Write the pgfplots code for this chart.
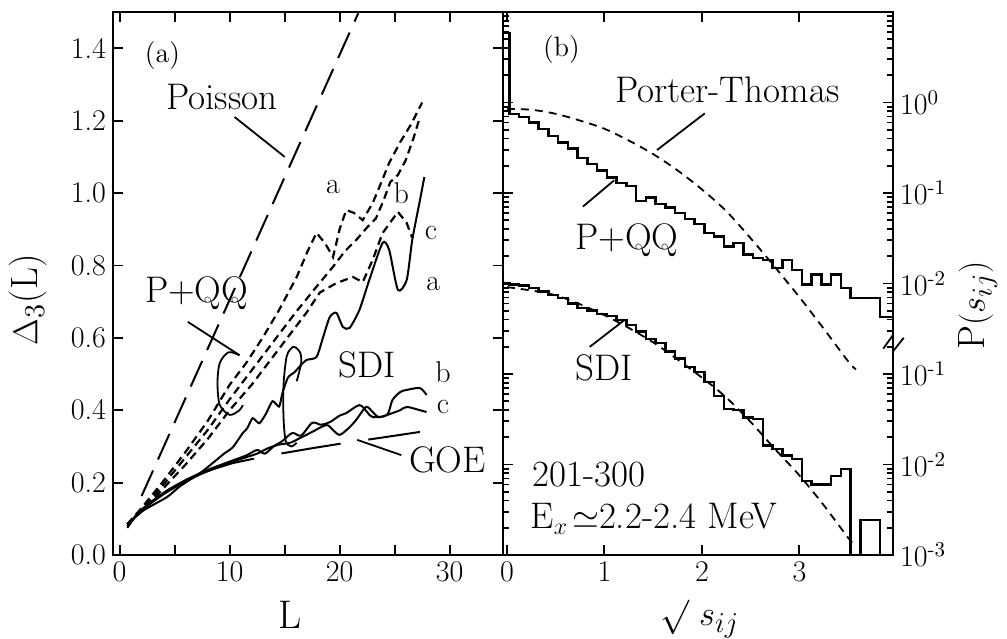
\documentclass[border=0pt]{standalone}
\usepackage{fontspec}
\usepackage{pgfplots}
\pgfplotsset{compat=1.18}
\newcommand{\lab}{\fontsize{18.5}{20}\selectfont}
\newcommand{\sml}{\fontsize{15}{16}\selectfont}
\begin{document}
\begin{tikzpicture}
\pgfplotsset{
  common/.style={
    scale only axis, width=195pt, height=271.5pt, clip=false,
    axis line style={line width=1.2pt},
    every tick/.style={black, line width=0.9pt},
    tick align=inside, xtick pos=both, ytick pos=both,
    major tick length=5pt, minor tick length=2.8pt,
    tick label style={font=\sml},
    /pgf/number format/assume math mode=true,
  },
}
% ---------------- panel (a) ----------------
\begin{axis}[common, name=left, at={(0pt,0pt)}, anchor=south west,
  xmin=-0.6, xmax=34.85, ymin=0, ymax=1.5,
  xtick={0,10,20,30}, minor xtick={5,15,25},
  minor tick length=5pt,
  ytick={0,0.2,0.4,0.6,0.8,1.0,1.2,1.4},
  yticklabel style={/pgf/number format/.cd, fixed, fixed zerofill, precision=1, assume math mode=true},
  xlabel={L}, xlabel style={font=\fontsize{20}{22}\selectfont, at={(axis description cs:0.454,-0.11)}, anchor=center},
  ylabel={$\Delta_3$(L)}, ylabel style={font=\fontsize{19}{21}\selectfont, at={(axis description cs:-0.218,0.47)}, anchor=center},
]
% Poisson
\addplot[black, line width=1pt, dash pattern=on 14pt off 6pt] coordinates {(2.0,0.163) (21.7,1.497)};
% GOE
\addplot[black, line width=1pt, dash pattern=on 30pt off 14pt] coordinates {
(0.7,0.075)(1.5,0.11)(2.3,0.133)(3.5,0.16)(4.5,0.18)(5.7,0.20)(7,0.22)(8.5,0.237)(10.3,0.254)(12.5,0.268)(15,0.282)(17.5,0.295)(20.6,0.31)(24,0.325)(27.3,0.34)};
% SDI a
\addplot[black, line width=1pt, smooth, tension=0.4] coordinates {
(0.7,0.085)(2,0.12)(4.3,0.16)(5.5,0.19)(7.3,0.226)(8.5,0.255)(9.5,0.28)(10.3,0.298)(11.2,0.337)(11.6,0.35)(12.1,0.378)(12.7,0.364)(13.3,0.39)(13.9,0.425)(14.5,0.41)(14.8,0.447)(15.3,0.49)(15.9,0.505)(16.5,0.525)(17.0,0.539)(17.9,0.547)(18.5,0.602)(19.1,0.657)(19.7,0.669)(20.3,0.63)(20.9,0.627)(21.8,0.677)(22.7,0.76)(23.9,0.862)(24.5,0.843)(25.3,0.732)(26.1,0.76)(26.6,0.87)(27.3,0.98)(27.7,1.044)};
% SDI b
\addplot[black, line width=1pt, smooth, tension=0.5] coordinates {
(0.7,0.08)(2,0.125)(4,0.172)(6,0.207)(8,0.235)(10,0.258)(11.5,0.275)(12.5,0.29)(13.2,0.28)(14,0.30)(14.8,0.315)(15.7,0.337)(16.5,0.33)(17.5,0.365)(18.3,0.36)(19.1,0.367)(20,0.385)(20.6,0.392)(21.8,0.414)(22.5,0.395)(23,0.381)(24.3,0.387)(24.8,0.428)(25.5,0.45)(26.1,0.456)(27.3,0.461)(27.9,0.442)};
% SDI c
\addplot[black, line width=1pt, smooth, tension=0.5] coordinates {
(0.7,0.08)(2,0.122)(4,0.168)(6,0.203)(8,0.232)(10,0.255)(11.5,0.27)(12.5,0.28)(13.5,0.295)(14.5,0.305)(15.5,0.31)(16.4,0.323)(17.5,0.34)(18.8,0.359)(19.4,0.345)(20.0,0.332)(20.8,0.35)(21.5,0.373)(22.4,0.409)(23.0,0.395)(23.6,0.381)(24.8,0.392)(25.5,0.40)(26.1,0.409)(27.3,0.40)(27.9,0.395)};
% P+QQ a
\addplot[black, line width=1.1pt, dash pattern=on 4pt off 2.5pt] coordinates {
(0.7,0.085)(2,0.13)(4,0.205)(6,0.285)(8,0.37)(10,0.47)(11.5,0.53)(13,0.60)(14.5,0.677)(16.1,0.768)(17.1,0.84)(17.9,0.89)(18.7,0.86)(19.4,0.823)(20.0,0.90)(20.6,0.953)(21.3,0.945)(22.1,0.925)(23,0.972)(23.8,1.03)(24.5,1.083)(25.5,1.14)(26.5,1.19)(27.5,1.25)};
% P+QQ b
\addplot[black, line width=1.1pt, dash pattern=on 4pt off 2.5pt] coordinates {
(0.7,0.085)(2,0.125)(4,0.195)(6,0.27)(8,0.345)(10,0.43)(12,0.51)(14,0.59)(16,0.67)(18,0.745)(19.5,0.80)(20.5,0.84)(21.5,0.87)(22.5,0.905)(23.3,0.93)(24,0.98)(24.6,1.03)(25.3,1.05)(26,1.09)(26.7,1.15)(27.3,1.21)};
% P+QQ c
\addplot[black, line width=1.1pt, dash pattern=on 4pt off 2.5pt] coordinates {
(0.7,0.085)(2,0.12)(4,0.185)(6,0.25)(8,0.32)(10,0.40)(12,0.47)(13,0.51)(14,0.55)(15,0.59)(16,0.63)(17,0.67)(18.2,0.725)(19.7,0.751)(21.2,0.768)(22.1,0.754)(23,0.815)(23.9,0.889)(25.3,0.948)(26.1,0.917)(26.6,0.876)};
% annotation loops
\addplot[black, line width=0.9pt, smooth, forget plot] coordinates {(10.9,0.552)(9.9,0.56)(9.1,0.53)(8.9,0.475)(9.1,0.415)(10,0.387)(10.9,0.40)(11.2,0.414)};
\addplot[black, line width=0.9pt, smooth, forget plot] coordinates {(16.1,0.48)(16.5,0.53)(16.4,0.56)(15.8,0.575)(15.2,0.55)(14.9,0.47)(14.9,0.38)(15.1,0.315)(15.6,0.30)(16.1,0.31)};
\draw[line width=0.9pt] (axis cs:10.45,1.21) -- (axis cs:15,1.10);
\draw[line width=0.9pt] (axis cs:6.2,0.644) -- (axis cs:10.9,0.552);
\draw[line width=0.9pt] (axis cs:21.6,0.318) -- (axis cs:25.6,0.276);
\node[font=\fontsize{14}{15}\selectfont] at (axis cs:3.9,1.38) {(a)};
\node[font=\lab] at (axis cs:9.3,1.265) {Poisson};
\node[font=\lab] at (axis cs:7,0.724) {P+QQ};
\node[font=\lab] at (axis cs:22.5,0.525) {SDI};
\node[font=\lab] at (axis cs:29.8,0.262) {GOE};
\node[font=\sml] at (axis cs:19.4,1.017) {a};
\node[font=\sml] at (axis cs:25.6,1.0) {b};
\node[font=\sml] at (axis cs:28.3,0.89) {c};
\node[font=\sml] at (axis cs:28.5,0.75) {a};
\node[font=\sml] at (axis cs:29.4,0.505) {b};
\node[font=\sml] at (axis cs:29.4,0.41) {c};
\end{axis}
% ---------------- panel (b) ----------------
\begin{axis}[common, at={(left.south east)}, anchor=south west,
  xmin=-0.04, xmax=3.96, ymin=0, ymax=6,
  xtick={0,1,2,3},
  ytick={0,1,2,3,4,5},
  yticklabels={10\textsuperscript{-3},10\textsuperscript{-2},10\textsuperscript{-1},10\textsuperscript{-2},10\textsuperscript{-1},10\textsuperscript{0}},
  yticklabel pos=right,
  minor ytick={0.301,0.477,0.602,0.699,0.778,0.845,0.903,0.954,
    1.301,1.477,1.602,1.699,1.778,1.845,1.903,1.954,2.301,
    2.477,2.602,2.699,2.778,2.845,2.903,2.954,
    3.301,3.477,3.602,3.699,3.778,3.845,3.903,3.954,
    4.301,4.477,4.602,4.699,4.778,4.845,4.903,4.954,
    5.301,5.477,5.602,5.699,5.778,5.845,5.903,5.954,6},
  xlabel={$\surd\;s_{ij}$}, xlabel style={font=\fontsize{19}{21}\selectfont, at={(axis description cs:0.505,-0.118)}, anchor=center},
  ylabel={P$(s_{ij})$}, ylabel style={font=\fontsize{19}{21}\selectfont, at={(axis description cs:1.218,0.46)}, anchor=center},
]
% Porter-Thomas (upper)
\addplot[black, line width=0.9pt, smooth, dash pattern=on 4pt off 3pt] coordinates {
(0,4.93)(0.25,4.92)(0.5,4.875)(0.75,4.80)(1.0,4.71)(1.25,4.58)(1.5,4.43)(1.75,4.25)(2.0,4.04)(2.25,3.80)(2.5,3.50)(2.75,3.18)(3.0,2.85)(3.25,2.50)(3.5,2.14)(3.58,2.05)};
% Porter-Thomas (lower)
\addplot[black, line width=0.9pt, smooth, dash pattern=on 4pt off 3pt] coordinates {
(0,2.96)(0.5,2.87)(1.0,2.65)(1.5,2.35)(2.0,1.96)(2.25,1.74)(2.5,1.47)(2.75,1.17)(3.0,0.88)(3.25,0.55)(3.5,0.19)(3.55,0.13)};
% P+QQ histogram
\addplot[black, line width=1.2pt, const plot] coordinates {
(-0.04,5.77)(0.025,4.87)(0.125,4.84)(0.225,4.78)(0.325,4.71)(0.425,4.63)(0.525,4.56)(0.625,4.49)(0.725,4.39)(0.825,4.32)(0.925,4.25)(1.025,4.17)(1.125,4.11)(1.225,4.08)(1.325,3.91)(1.425,3.95)(1.525,3.88)(1.625,3.84)(1.725,3.78)(1.825,3.71)(1.925,3.66)(2.025,3.56)(2.125,3.52)(2.225,3.41)(2.325,3.45)(2.425,3.32)(2.525,3.28)(2.625,3.26)(2.725,3.17)(2.825,3.26)(2.925,3.15)(3.025,2.99)(3.125,3.10)(3.225,2.99)(3.325,3.10)(3.425,2.95)(3.525,2.84)(3.625,2.84)(3.725,2.84)(3.825,2.63)(3.96,2.63)};
% SDI histogram
\addplot[black, line width=1.2pt, const plot] coordinates {
(-0.04,3.00)(0.025,2.99)(0.125,2.98)(0.225,2.95)(0.325,2.91)(0.425,2.87)(0.525,2.84)(0.625,2.78)(0.725,2.73)(0.825,2.70)(0.925,2.66)(1.025,2.64)(1.125,2.60)(1.225,2.54)(1.325,2.47)(1.425,2.39)(1.525,2.34)(1.625,2.25)(1.725,2.17)(1.825,2.08)(1.925,2.02)(2.025,1.91)(2.125,1.76)(2.225,1.61)(2.325,1.60)(2.425,1.52)(2.525,1.50)(2.625,1.21)(2.725,1.17)(2.825,1.10)(2.925,1.06)(3.025,0.82)(3.125,0.78)(3.225,0.78)(3.325,0.87)(3.425,0.95)(3.525,0)(3.625,0.39)(3.825,0)(3.96,0)};
% break mark
\draw[line width=0.9pt] (axis cs:3.86,2.28) -- (axis cs:3.96,2.43);
\draw[line width=0.9pt] (axis cs:3.96,2.25) -- (axis cs:4.07,2.40);
% leaders and labels
\draw[line width=0.9pt] (axis cs:2.03,4.88) -- (axis cs:1.54,4.475);
\draw[line width=0.9pt] (axis cs:0.78,3.85) -- (axis cs:1.10,4.14);
\draw[line width=0.9pt] (axis cs:0.85,2.30) -- (axis cs:1.21,2.60);
\node[font=\fontsize{14}{15}\selectfont] at (axis cs:0.56,5.58) {(b)};
\node[font=\lab] at (axis cs:2.26,5.14) {Porter-Thomas};
\node[font=\lab] at (axis cs:1.23,3.48) {P+QQ};
\node[font=\lab] at (axis cs:1.0,2.07) {SDI};
\node[font=\lab, anchor=west, inner sep=0pt] at (axis cs:0.26,0.89) {201-300};
\node[font=\lab, anchor=west, inner sep=0pt] at (axis cs:0.24,0.40) {E$_x\!\simeq$2.2-2.4 MeV};
\end{axis}
\pgfresetboundingbox
\useasboundingbox (-56.5pt,-41.5pt) rectangle (447pt,277.5pt);
\end{tikzpicture}
\end{document}
